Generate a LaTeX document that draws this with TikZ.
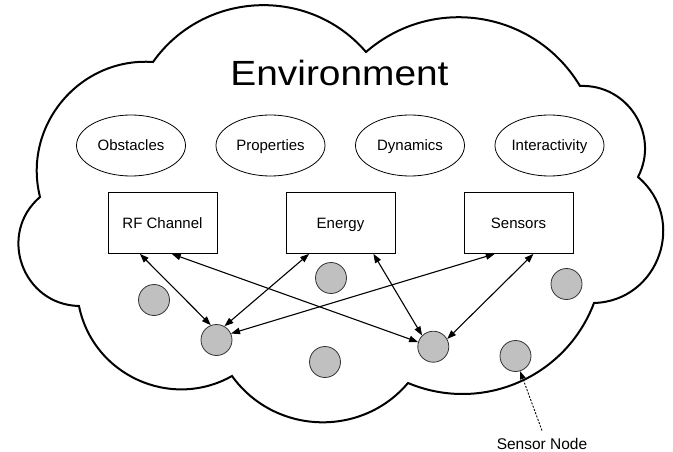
\documentclass[tikz,border=0pt]{standalone}
\usepackage{graphicx}
\usepackage{fontspec}
\setmainfont{Liberation Sans}
\usetikzlibrary{arrows.meta,shapes.geometric,calc}
\definecolor{nodegray}{HTML}{C0C0C0}
\definecolor{edgegray}{HTML}{333333}
\begin{document}
\begin{tikzpicture}[x=1pt,y=-1pt,
  cloudline/.style={line width=2pt},
  factor/.style={draw, ellipse, line width=0.8pt, minimum width=109pt, minimum height=61pt,
    inner sep=0pt, font=\fontsize{15}{18}\selectfont, text height=10.7pt, text depth=0pt},
  block/.style={draw, rectangle, line width=0.8pt, minimum width=109pt, minimum height=61.5pt,
    inner sep=0pt, font=\fontsize{15}{18}\selectfont, text height=10.7pt, text depth=0pt},
  snode/.style={circle, draw=edgegray, fill=nodegray, line width=0.8pt, minimum size=31pt, inner sep=0pt},
  link/.style={line width=1.1pt, {Triangle[length=9pt,width=6.5pt]}-{Triangle[length=9pt,width=6.5pt]}},
  pointer/.style={line width=0.9pt, dash pattern=on 2pt off 1.5pt, -{Triangle[length=8pt,width=5.5pt]}}
]
\useasboundingbox (0,0) rectangle (673,452);

% cloud
\draw[cloudline] (40,197)
  to[bend left=54,looseness=1.07] (153,62)
  to[bend left=52,looseness=1.05] (366,52)
  to[bend left=50,looseness=1.04] (580,86)
  to[bend left=60,looseness=1.13] (638,177)
  to[bend left=69,looseness=1.25] (594,303)
  to[bend left=46,looseness=1.01] (408,383)
  to[bend left=52,looseness=1.05] (232,376)
  to[bend left=54,looseness=1.07] (79,306)
  to[bend left=69,looseness=1.25] (40,197) -- cycle;

% title
\node[anchor=base, inner sep=0pt, font=\fontsize{35}{40}\selectfont] (env) at (339.5,86) {\scalebox{1.11}[1]{Environment}};

% factors
\node[factor] (obs) at (131,145.5) {Obstacles};
\node[factor] (prop) at (270.5,145.5) {Properties};
\node[factor] (dyn) at (410,145.5) {Dynamics};
\node[factor] (inter) at (549.5,145.5) {Interactivity};

% blocks
\node[block] (rf) at (162.5,222.7) {RF Channel};
\node[block] (en) at (340.5,222.7) {Energy};
\node[block] (sen) at (518.5,222.7) {Sensors};

% sensor nodes
\node[snode] (n1) at (154,300) {};
\node[snode] (n2) at (216.5,340) {};
\node[snode] (n3) at (331,278) {};
\node[snode] (n4) at (325,362) {};
\node[snode] (n5) at (433.3,346.7) {};
\node[snode] (n6) at (566.5,284) {};
\node[snode] (n7) at (515.5,356) {};

% links
\draw[link] ($(rf.south west)!0.294!(rf.south east)$) -- (n2.111);
\draw[link] ($(rf.south west)!0.584!(rf.south east)$) -- (n5.163);
\draw[link] ($(en.south west)!0.214!(en.south east)$) -- (n2.60);
\draw[link] ($(en.south west)!0.80!(en.south east)$) -- (n5.135);
\draw[link] ($(sen.south west)!0.284!(sen.south east)$) -- (n2.24);
\draw[link] ($(sen.south west)!0.636!(sen.south east)$) -- (n5.29);

% sensor node label
\node[anchor=base, inner sep=0pt, font=\fontsize{15.5}{18}\selectfont] (snl) at (542,449) {Sensor Node};
\draw[pointer] ([yshift=7pt]snl.north) -- (n7.287);
\end{tikzpicture}
\end{document}
